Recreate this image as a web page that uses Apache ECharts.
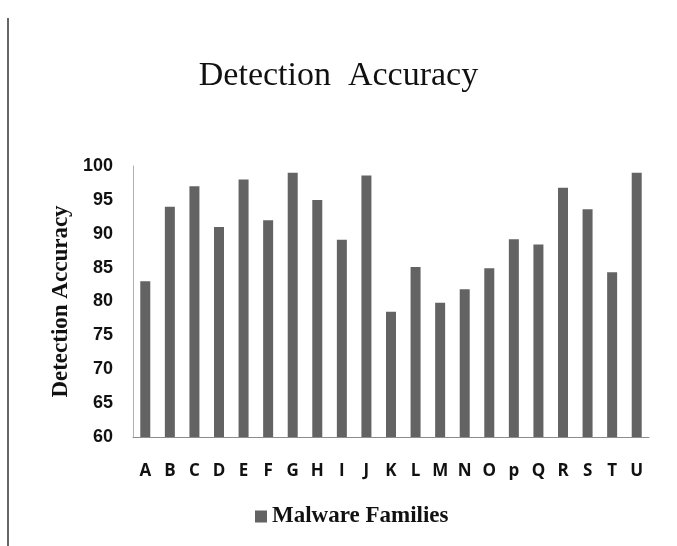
<!DOCTYPE html>
<html>
<head>
<meta charset="utf-8">
<script src="https://cdn.jsdelivr.net/npm/echarts@6/dist/echarts.min.js"></script>
<style>
    html, body { margin: 0; padding: 0; background: #fff; }
    #main { width: 677px; height: 546px; }
</style>
</head>
<body>
<div id="main"></div>
<script type="text/javascript">
    var families = ['A', 'B', 'C', 'D', 'E', 'F', 'G', 'H', 'I', 'J', 'K', 'L', 'M', 'N', 'O', 'p', 'Q', 'R', 'S', 'T', 'U'];
    var accuracy = [83, 94, 97, 91, 98, 92, 99, 95, 89.1, 98.6, 78.5, 85.1, 79.8, 81.8, 84.9, 89.2, 88.4, 96.8, 93.6, 84.3, 99];

    var myChart = echarts.init(document.getElementById('main'));
    var option = {
        animation: false,
        backgroundColor: '#fff',
        title: {
            text: 'Detection  Accuracy',
            left: 'center',
            top: 54,
            textStyle: {
                fontFamily: 'Liberation Serif',
                fontWeight: 'normal',
                fontSize: 34,
                color: '#111'
            }
        },
        legend: {
            data: ['Malware Families'],
            left: 250,
            top: 500,
            itemWidth: 12,
            itemHeight: 12,
            icon: 'rect',
            textStyle: {
                fontFamily: 'Liberation Serif',
                fontWeight: 'bold',
                fontSize: 23,
                color: '#111'
            }
        },
        grid: {
            left: 133,
            right: 28,
            top: 166,
            bottom: 109
        },
        xAxis: {
            type: 'category',
            data: families,
            axisTick: { show: false },
            axisLine: { lineStyle: { color: '#8c8c8c', width: 1 } },
            axisLabel: {
                margin: 26,
                fontFamily: 'Open Sans',
                fontWeight: 'bold',
                fontSize: 17,
                color: '#111'
            }
        },
        yAxis: {
            type: 'value',
            min: 60,
            max: 100,
            interval: 5,
            name: 'Detection Accuracy',
            nameLocation: 'middle',
            nameGap: 59,
            nameTextStyle: {
                fontFamily: 'Liberation Serif',
                fontWeight: 'bold',
                fontSize: 23,
                color: '#111'
            },
            splitLine: { show: false },
            axisTick: { show: false },
            axisLine: { show: true, lineStyle: { color: '#b0b0b0', width: 1 } },
            axisLabel: {
                margin: 20,
                fontFamily: 'Liberation Sans',
                fontWeight: 'bold',
                fontSize: 18,
                color: '#111'
            }
        },
        graphic: [{
            type: 'line',
            shape: { x1: 8, y1: 18, x2: 8, y2: 546 },
            style: { stroke: '#333', lineWidth: 1.5 }
        }],
        series: [{
            name: 'Malware Families',
            type: 'bar',
            barWidth: 10,
            itemStyle: { color: '#636363' },
            data: accuracy
        }]
    };
    myChart.setOption(option);
</script>
</body>
</html>
